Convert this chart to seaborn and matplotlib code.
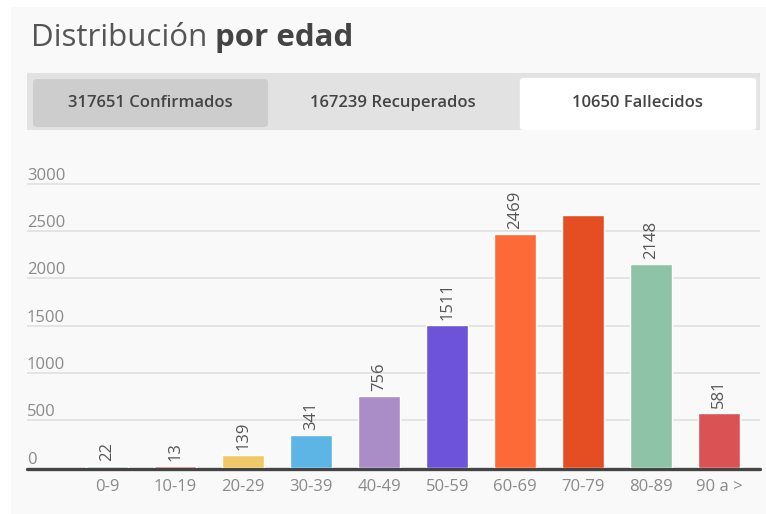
import matplotlib
matplotlib.use("Agg")
import matplotlib.pyplot as plt
from matplotlib.patches import Rectangle, FancyBboxPatch
from matplotlib.transforms import offset_copy
import seaborn as sns
import pandas as pd

# ---- data ----
age_groups = ["0-9", "10-19", "20-29", "30-39", "40-49", "50-59",
              "60-69", "70-79", "80-89", "90 a >"]
deaths = [22, 13, 139, 341, 756, 1511, 2469, 2670, 2148, 581]
show_value = [True, True, True, True, True, True, True, False, True, True]
bar_colors = ["#8fc4a7", "#dc5a5c", "#f0c868", "#5cb5e4", "#aa8cc7",
              "#6d53d9", "#fd6937", "#e44e22", "#8ec3a7", "#db5255"]
y_ticks = [0, 500, 1000, 1500, 2000, 2500, 3000]
title_light = "Distribución"
title_bold = "por edad"
tab_labels = ["317651 Confirmados", "167239 Recuperados", "10650 Fallecidos"]

W, H = 766, 514
sns.set_theme(style="white")
plt.rcParams["font.family"] = ["Open Sans", "DejaVu Sans"]

fig = plt.figure(figsize=(W / 100, H / 100), dpi=100, facecolor="white")


def fx(px):
    return px / W


def fy(py):
    return 1 - py / H


def rect(x0, y0, x1, y1, color, rounded=0, z=-5):
    if rounded:
        p = FancyBboxPatch((fx(x0), fy(y1)), fx(x1) - fx(x0), fy(y0) - fy(y1),
                           boxstyle=f"round,pad=0,rounding_size={rounded / W}",
                           transform=fig.transFigure, facecolor=color,
                           edgecolor="none", zorder=z)
    else:
        p = Rectangle((fx(x0), fy(y1)), fx(x1) - fx(x0), fy(y0) - fy(y1),
                      transform=fig.transFigure, facecolor=color,
                      edgecolor="none", zorder=z)
    fig.patches.append(p)


# card background
rect(11, 7, 766, 514, "#f9f9f9", z=-10)
# tab strip
rect(27, 73, 760, 130, "#e2e2e2", z=-9)
rect(33, 79, 268, 127, "#cdcdcd", rounded=5, z=-8)
rect(519, 77, 758, 130, "#e6e6e6", rounded=4, z=-8)
rect(520, 78, 756, 130, "#ffffff", rounded=4, z=-7)

# title
t1 = fig.text(fx(31), fy(38), title_light + " ", fontsize=22.5,
              color="#555555", va="center", ha="left")
fig.canvas.draw()
bb = t1.get_window_extent()
fig.text(bb.x1 / W, fy(38), title_bold, fontsize=22.5, color="#444444",
         fontweight="bold", va="center", ha="left")

tab_centers = [150, 393, 637]
for lab, cx in zip(tab_labels, tab_centers):
    fig.text(fx(cx), fy(103), lab, fontsize=12, color="#444444",
             fontweight="semibold", ha="center", va="center")

# ---- chart ----
ax_left, ax_right = 27, 760
ax_top, ax_bottom = 150, 467.7
ax = fig.add_axes([fx(ax_left), fy(ax_bottom), fx(ax_right - ax_left),
                   (ax_bottom - ax_top) / H])
ax.set_zorder(2)
ax.patch.set_visible(False)

df = pd.DataFrame({"edad": age_groups, "fallecidos": deaths})
sns.barplot(data=df, x="edad", y="fallecidos", hue="edad",
            palette=bar_colors, width=0.62, legend=False, ax=ax,
            saturation=1, order=age_groups, hue_order=age_groups)

ax.set_xlim(-1.18, 9.6)
ax.set_ylim(0, 3354)
for s in ax.spines.values():
    s.set_visible(False)
ax.set_xlabel("")
ax.set_ylabel("")
ax.set_yticks([])
ax.tick_params(axis="x", length=0, pad=8, labelsize=12, labelcolor="#8a8a8a")

# gridlines
for v in y_ticks[1:]:
    ax.axhline(v, color="#e4e4e4", lw=1.4, zorder=0)
base = ax.axhline(0, color="#444444", lw=2.4, zorder=0.5, clip_on=False)
base.set_transform(offset_copy(ax.get_yaxis_transform(), fig=fig, x=0, y=-1.5,
                               units="dots"))

# y tick labels above gridlines
lab_tr = offset_copy(ax.get_yaxis_transform(), fig=fig, x=0, y=4, units="dots")
for v in y_ticks:
    ax.text(0, v, str(v), transform=lab_tr, ha="left", va="baseline",
            fontsize=12, color="#8a8a8a")

# value labels
for cont in ax.containers:
    for bar in cont:
        i = int(round(bar.get_x() + bar.get_width() / 2))
        if not show_value[i]:
            continue
        ax.annotate(str(deaths[i]), (i, deaths[i]), xytext=(0, 5),
                    textcoords="offset pixels", rotation=90, ha="center",
                    va="bottom", fontsize=12, color="#555555")

fig.savefig("out.png", dpi=100, facecolor="white")
